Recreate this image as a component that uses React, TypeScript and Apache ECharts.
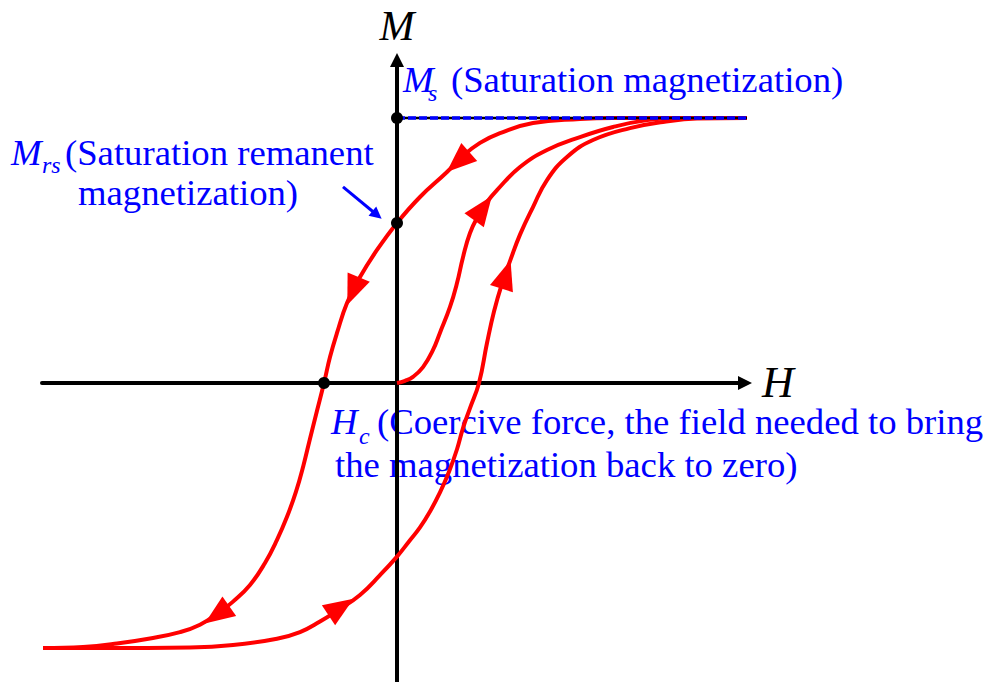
import React, { useEffect, useRef } from "react";
import * as echarts from "echarts";

// Axis extents (H in arbitrary field units, M normalised to Ms = 1)
const H_MIN = -3.55;
const H_MAX = 3.48;
const M_MIN = -1.1283;
const M_MAX = 1.2189;

// Upper (descending) branch: from +saturation down to -saturation
const descendingBranch: [number, number][] = [
  [3.5, 1.0], [2.83, 1.0], [2.16, 1.0], [1.83, 0.996], [1.36, 0.981], [1.03, 0.943],
  [0.83, 0.906], [0.66, 0.857], [0.5, 0.796], [0.23, 0.702], [0.0, 0.604],
  [-0.2, 0.502], [-0.37, 0.4], [-0.5, 0.302], [-0.6, 0.189], [-0.67, 0.098],
  [-0.73, 0.0], [-0.8, -0.105], [-0.87, -0.21], [-0.935, -0.31], [-1.01, -0.41],
  [-1.1, -0.505], [-1.2, -0.592], [-1.32, -0.679], [-1.47, -0.762], [-1.64, -0.825],
  [-1.77, -0.864], [-1.97, -0.912], [-2.17, -0.94], [-2.47, -0.964], [-2.8, -0.983],
  [-3.14, -0.996], [-3.54, -1.0],
];

// Lower (ascending) branch: from -saturation back up to +saturation
const ascendingBranch: [number, number][] = [
  [-3.54, -1.0], [-2.97, -1.0], [-2.07, -0.998], [-1.64, -0.989], [-1.2, -0.965],
  [-0.97, -0.94], [-0.77, -0.9], [-0.6, -0.86], [-0.37, -0.8], [-0.17, -0.725],
  [0.0, -0.655], [0.12, -0.598], [0.23, -0.545], [0.33, -0.485], [0.43, -0.413],
  [0.52, -0.335], [0.6, -0.25], [0.66, -0.17], [0.73, -0.095], [0.82, 0.0],
  [0.9, 0.151], [0.97, 0.27], [1.05, 0.375], [1.13, 0.46], [1.23, 0.56],
  [1.36, 0.664], [1.5, 0.766], [1.7, 0.853], [1.96, 0.917], [2.33, 0.962],
  [2.66, 0.985], [3.0, 0.998], [3.5, 1.0],
];

// Initial magnetisation curve from the origin
const initialCurve: [number, number][] = [
  [0.0, 0.0], [0.08, 0.008], [0.16, 0.023], [0.26, 0.06], [0.36, 0.125], [0.43, 0.19],
  [0.53, 0.287], [0.6, 0.377], [0.66, 0.475], [0.73, 0.566], [0.81, 0.63],
  [0.9, 0.683], [1.0, 0.728], [1.23, 0.815], [1.5, 0.879], [1.83, 0.928],
  [2.16, 0.966], [2.5, 0.992], [2.83, 1.0],
];

// Direction arrow positions on each branch
const descendingArrows: [number, number][] = [[0.61, 0.834], [-0.44, 0.347], [-1.8, -0.875]];
const ascendingArrows: [number, number][] = [[-0.56, -0.845], [1.09, 0.41]];
const initialArrows: [number, number][] = [[0.86, 0.66]];

// Key points: Ms, Mrs, Hc
const keyPoints: [number, number][] = [[0, 1.0], [0, 0.604], [-0.73, 0]];
const saturationLevel: [number, number][] = [[0, 1.0], [3.5, 1.0]];
const mrsPointer: [number, number][] = [[-0.54, 0.74], [-0.2, 0.634]];

// Label texts
const axisTitles = ["M", "H"];
const msLabel = ["M", "s", "(Saturation magnetization)"];
const mrsLabel = ["M", "rs", "(Saturation remanent", "magnetization)"];
const hcLabel = ["H", "c", "(Coercive force, the field needed to bring", "the magnetization back to zero)"];

const FONT = "Liberation Serif, Times New Roman, serif";
const BLUE = "#0000FF";
const RED = "#FF0000";
const FS = 36.7;
const SUB = 24;

function txt(text: string, x: number, baseline: number, size: number, italic: boolean, color: string, align = "left") {
  return {
    type: "text",
    x,
    y: baseline - 0.34 * size,
    z: 0,
    silent: true,
    style: {
      text,
      fill: color,
      fontSize: size,
      fontFamily: FONT,
      fontStyle: italic ? "italic" : "normal",
      textAlign: align,
      verticalAlign: "middle",
    },
  };
}

export default function App() {
  const ref = useRef<HTMLDivElement>(null);

  useEffect(() => {
    document.body.style.margin = "0";
    if (!ref.current) return;
    const chart = echarts.init(ref.current, null, { renderer: "svg" });

    const graphics = [
      txt(axisTitles[0], 397, 40, 42, true, "#000", "center"),
      txt(axisTitles[1], 762, 397, 44, true, "#000"),
      txt(msLabel[0], 403, 92, FS, true, BLUE),
      txt(msLabel[1], 428, 101, SUB, true, BLUE),
      txt(msLabel[2], 451, 92, FS, false, BLUE),
      txt(mrsLabel[0], 11, 165, FS, true, BLUE),
      txt(mrsLabel[1], 42, 173, SUB, true, BLUE),
      txt(mrsLabel[2], 65, 165, FS, false, BLUE),
      txt(mrsLabel[3], 78, 205, FS, false, BLUE),
      txt(hcLabel[0], 331, 434, FS, true, BLUE),
      txt(hcLabel[1], 359, 444, SUB, true, BLUE),
      txt(hcLabel[2], 377, 434, FS, false, BLUE),
      txt(hcLabel[3], 335, 477, FS, false, BLUE),
    ];

    const curveStyle = { color: RED, width: 4 };
    const baseSeries: any[] = [
      { type: "line", name: "descending", data: descendingBranch, smooth: 0.45, showSymbol: false, lineStyle: curveStyle, z: 2 },
      { type: "line", name: "ascending", data: ascendingBranch, smooth: 0.45, showSymbol: false, lineStyle: curveStyle, z: 2 },
      { type: "line", name: "initial", data: initialCurve, smooth: 0.45, showSymbol: false, lineStyle: curveStyle, z: 2 },
      { type: "line", name: "ms-base", data: saturationLevel, showSymbol: false, lineStyle: { color: "#000", width: 2.5 }, z: 3 },
      { type: "line", name: "ms-dash", data: saturationLevel, showSymbol: false, lineStyle: { color: BLUE, width: 3.5, type: [8, 3] }, z: 4 },
      {
        type: "lines",
        coordinateSystem: "cartesian2d",
        data: [{ coords: mrsPointer }],
        symbol: ["none", "triangle"],
        symbolSize: 12,
        lineStyle: { color: BLUE, width: 3, opacity: 1, curveness: 0 },
        z: 4,
      },
      { type: "scatter", name: "key", data: keyPoints, symbol: "circle", symbolSize: 12, itemStyle: { color: "#000", opacity: 1 }, z: 6 },
    ];

    const option: any = {
      animation: false,
      backgroundColor: "#fff",
      grid: { left: 42, right: 251, top: 60, bottom: 0, containLabel: false },
      xAxis: {
        type: "value", min: H_MIN, max: H_MAX, z: 1,
        axisLine: { onZero: true, symbol: ["none", "triangle"], symbolSize: [14, 14], lineStyle: { color: "#000", width: 4 } },
        axisTick: { show: false }, axisLabel: { show: false }, splitLine: { show: false },
      },
      yAxis: {
        type: "value", min: M_MIN, max: M_MAX, z: 1,
        axisLine: { onZero: true, symbol: ["none", "triangle"], symbolSize: [14, 14], lineStyle: { color: "#000", width: 4 } },
        axisTick: { show: false }, axisLabel: { show: false }, splitLine: { show: false },
      },
      graphic: { elements: graphics },
      series: baseSeries,
    };
    chart.setOption(option);

    const toPx = (p: [number, number]) => chart.convertToPixel({ xAxisIndex: 0, yAxisIndex: 0 }, p) as number[];
    const arrowData = (branch: [number, number][], arrows: [number, number][]) => {
      const pts = branch.map(toPx);
      return arrows.map((a) => {
        const ap = toPx(a);
        let best = 0;
        let bd = Infinity;
        pts.forEach((p, i) => {
          const d = (p[0] - ap[0]) ** 2 + (p[1] - ap[1]) ** 2;
          if (d < bd) { bd = d; best = i; }
        });
        const p0 = pts[Math.max(best - 1, 0)];
        const p1 = pts[Math.min(best + 1, pts.length - 1)];
        const rot = (Math.atan2(-(p1[0] - p0[0]), -(p1[1] - p0[1])) * 180) / Math.PI;
        return { value: a, symbolRotate: rot };
      });
    };
    const arrowSeries = (branch: [number, number][], arrows: [number, number][]) => ({
      type: "scatter",
      data: arrowData(branch, arrows),
      symbol: "triangle",
      symbolSize: [24, 30],
      itemStyle: { color: RED, opacity: 1 },
      z: 5,
    });

    chart.setOption({
      series: [
        ...baseSeries,
        arrowSeries(descendingBranch, descendingArrows),
        arrowSeries(ascendingBranch, ascendingArrows),
        arrowSeries(initialCurve, initialArrows),
      ],
    });

    return () => chart.dispose();
  }, []);

  return <div ref={ref} style={{ width: 996, height: 682 }} />;
}
